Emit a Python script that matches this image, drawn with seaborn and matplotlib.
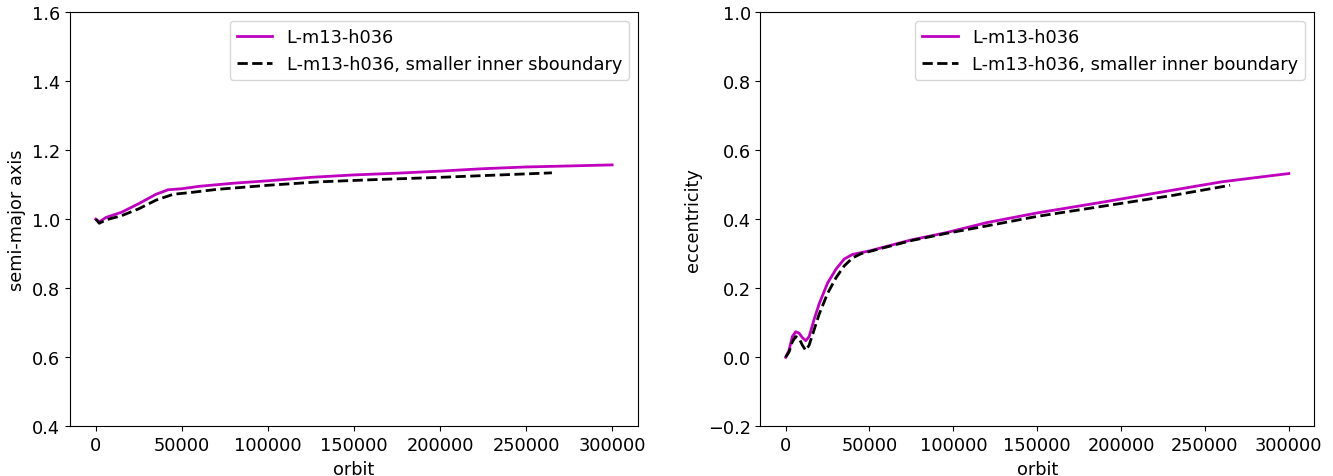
import numpy as np
import pandas as pd
import seaborn as sns
import matplotlib.pyplot as plt

plt.rcParams["font.size"] = 12.8

# semi-major axis, standard run
orbit_a1 = [0, 2000, 6000, 15000, 25000, 35000, 42000, 50000, 60000, 80000, 100000,
            125000, 150000, 175000, 200000, 225000, 250000, 275000, 300000]
a1 = [1.000, 0.992, 1.005, 1.020, 1.045, 1.072, 1.085, 1.088, 1.095, 1.104, 1.111,
      1.121, 1.128, 1.133, 1.139, 1.146, 1.151, 1.154, 1.157]

# semi-major axis, smaller inner boundary
orbit_a2 = [0, 2000, 6000, 15000, 25000, 35000, 45000, 55000, 70000, 100000,
            130000, 160000, 200000, 230000, 265000]
a2 = [1.000, 0.988, 0.998, 1.010, 1.030, 1.055, 1.072, 1.077, 1.086, 1.098,
      1.108, 1.114, 1.121, 1.127, 1.134]

# eccentricity, standard run
orbit_e1 = [0, 2000, 4000, 6000, 8000, 10000, 12000, 14000, 17000, 20000, 25000,
            30000, 35000, 40000, 50000, 75000, 95000, 120000, 150000, 190000,
            220000, 260000, 300000]
e1 = [0.000, 0.020, 0.060, 0.074, 0.070, 0.057, 0.048, 0.060, 0.110, 0.155, 0.215,
      0.255, 0.285, 0.298, 0.308, 0.340, 0.360, 0.390, 0.418, 0.450, 0.475,
      0.508, 0.532]

# eccentricity, smaller inner boundary
orbit_e2 = [0, 2000, 4000, 6000, 8000, 10000, 12000, 14000, 17000, 20000, 25000,
            30000, 35000, 40000, 45000, 75000, 95000, 125000, 150000, 190000,
            230000, 265000]
e2 = [0.000, 0.015, 0.045, 0.060, 0.055, 0.035, 0.020, 0.035, 0.080, 0.125, 0.185,
      0.230, 0.265, 0.288, 0.300, 0.338, 0.358, 0.385, 0.408, 0.438, 0.468, 0.498]

label1 = "L-m13-h036"

fig, ax = plt.subplots(1, 2, figsize=(13.33, 4.77), dpi=100)
ax[0].set_position([0.0525, 0.104, 0.4786 - 0.0525, 0.973 - 0.104])
ax[1].set_position([0.5705, 0.104, 0.9857 - 0.5705, 0.973 - 0.104])

sns.lineplot(ax=ax[0], x=orbit_a1, y=a1, color="m", linewidth=2, label=label1)
sns.lineplot(ax=ax[0], x=orbit_a2, y=a2, color="k", linewidth=2, linestyle="--",
             label="L-m13-h036, smaller inner sboundary")
ax[0].set_ylim(0.4, 1.6)
ax[0].set_xlabel("orbit")
ax[0].set_ylabel("semi-major axis")
ax[0].legend(loc="upper right")

sns.lineplot(ax=ax[1], x=orbit_e1, y=e1, color="m", linewidth=2, label=label1)
sns.lineplot(ax=ax[1], x=orbit_e2, y=e2, color="k", linewidth=2, linestyle="--",
             label="L-m13-h036, smaller inner boundary")
ax[1].set_ylim(-0.2, 1.0)
ax[1].set_xlabel("orbit")
ax[1].set_ylabel("eccentricity")
ax[1].legend(loc="upper right")

for a in ax:
    a.set_xlim(-15000, 315000)
    a.set_xticks([0, 50000, 100000, 150000, 200000, 250000, 300000])

plt.savefig("out.png", dpi=100)
